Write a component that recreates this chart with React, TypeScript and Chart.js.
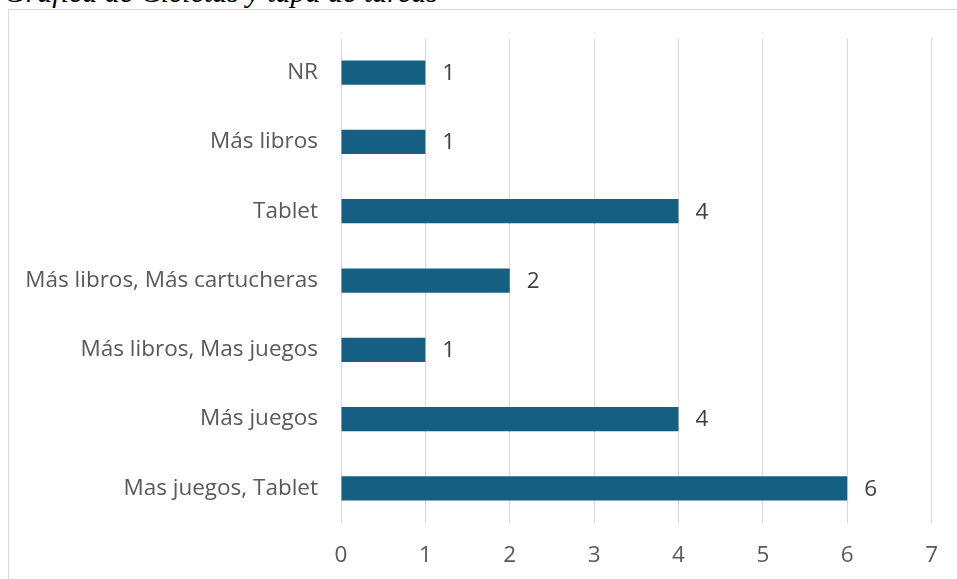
import React, { useEffect, useRef } from "react";
import { Chart, registerables } from "chart.js";

Chart.register(...registerables);

const categories = [
  "NR",
  "Más libros",
  "Tablet",
  "Más libros, Más cartucheras",
  "Más libros, Mas juegos",
  "Más juegos",
  "Mas juegos, Tablet",
];
const values = [1, 1, 4, 2, 1, 4, 6];
const xTicks = [0, 1, 2, 3, 4, 5, 6, 7];
const captionText = "Gráfica de Cicletas y tapa de tareas";

const FONT = "'Open Sans', 'Noto Sans', sans-serif";
const FSIZE = 22.5;

const dataLabelPlugin = {
  id: "barValueLabels",
  afterDatasetsDraw(chart: any) {
    const ctx = chart.ctx;
    const meta = chart.getDatasetMeta(0);
    ctx.save();
    ctx.font = `${FSIZE}px ${FONT}`;
    ctx.fillStyle = "#404040";
    ctx.textAlign = "left";
    ctx.textBaseline = "middle";
    meta.data.forEach((bar: any, i: number) => {
      ctx.fillText(String(chart.data.datasets[0].data[i]), bar.x + 17, bar.y + 1);
    });
    ctx.restore();
  },
};

export default function App() {
  const ref = useRef<HTMLCanvasElement | null>(null);

  useEffect(() => {
    if (!ref.current) return;
    const chart = new Chart(ref.current, {
      type: "bar",
      data: {
        labels: categories,
        datasets: [
          {
            data: values,
            backgroundColor: "#156082",
            borderWidth: 0,
            categoryPercentage: 1,
            barPercentage: 0.35,
          },
        ],
      },
      options: {
        indexAxis: "y",
        animation: false,
        responsive: false,
        maintainAspectRatio: false,
        layout: { padding: { top: 38, right: 21, left: 0, bottom: 0 } },
        plugins: {
          legend: { display: false },
          tooltip: { enabled: false },
          title: { display: false },
        },
        scales: {
          x: {
            min: 0,
            max: 7,
            afterBuildTicks(scale: any) {
              scale.ticks = xTicks.map((v) => ({ value: v }));
            },
            afterFit(scale: any) {
              scale.height = 56;
            },
            grid: {
              color: "#d9d9d9",
              lineWidth: 1,
              drawTicks: false,
            },
            border: { display: false },
            ticks: {
              padding: 19,
              color: "#595959",
              font: { family: FONT, size: FSIZE },
            },
          },
          y: {
            afterFit(scale: any) {
              scale.width = 341;
            },
            grid: { display: false, drawTicks: false },
            border: { display: false },
            ticks: {
              padding: 23,
              color: "#595959",
              font: { family: FONT, size: FSIZE },
            },
          },
        },
      },
      plugins: [dataLabelPlugin],
    });
    return () => chart.destroy();
  }, []);

  return (
    <div
      style={{
        position: "fixed",
        left: 0,
        top: 0,
        width: 957,
        height: 579,
        overflow: "hidden",
        background: "#ffffff",
      }}
    >
      <div
        style={{
          position: "absolute",
          left: 8,
          top: 9,
          width: 1000,
          height: 700,
          border: "1px solid #d9d9d9",
          boxSizing: "border-box",
        }}
      />
      <div
        style={{
          position: "absolute",
          left: 4,
          top: -23,
          fontFamily: "'Liberation Serif', 'DejaVu Serif', serif",
          fontStyle: "italic",
          fontSize: 30,
          lineHeight: "30px",
          whiteSpace: "nowrap",
          color: "#000000",
        }}
      >
        {captionText}
      </div>
      <canvas
        ref={ref}
        width={957}
        height={579}
        style={{ position: "absolute", left: 0, top: 0, width: 957, height: 579 }}
      />
    </div>
  );
}
